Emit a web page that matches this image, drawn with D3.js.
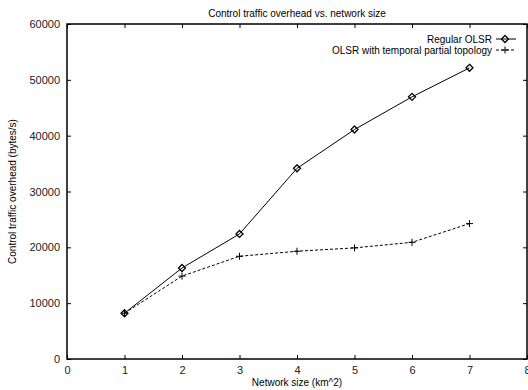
<!DOCTYPE html>
<html>
<head>
<meta charset="utf-8">
<script src="https://cdn.jsdelivr.net/npm/d3@7"></script>
<style>
  body { margin: 0; background: #fff; }
  text { font-family: "Liberation Sans", Arial, sans-serif; fill: #000; }
</style>
</head>
<body>
<div id="chart"></div>
<script>
// data
var networkSize = [1, 2, 3, 4, 5, 6, 7];
var regularOlsr = [8200, 16300, 22400, 34150, 41100, 46950, 52150];
var temporalOlsr = [8200, 14850, 18400, 19300, 19900, 20900, 24250];
var xTicks = [0, 1, 2, 3, 4, 5, 6, 7, 8];
var yTicks = [0, 10000, 20000, 30000, 40000, 50000, 60000];

var width = 528, height = 390;
var margin = { top: 24, right: 1, bottom: 31, left: 67 };
var plotW = width - margin.left - margin.right;
var plotH = height - margin.top - margin.bottom;

var svg = d3.select("#chart").append("svg")
    .attr("width", width)
    .attr("height", height);

var xScale = d3.scaleLinear().domain([0, 8]).range([0, plotW]);
var yScale = d3.scaleLinear().domain([0, 60000]).range([plotH, 0]);

var g = svg.append("g").attr("transform", "translate(" + margin.left + "," + margin.top + ")");

// gnuplot-like inward ticks on all four sides
var tickLen = 4;
g.append("g").attr("class", "x axis")
    .attr("transform", "translate(0," + plotH + ")")
    .call(d3.axisBottom(xScale).tickValues(xTicks).tickSizeInner(-tickLen).tickSizeOuter(0).tickPadding(7).tickFormat(d3.format("d")));
g.append("g").attr("class", "x2 axis")
    .call(d3.axisTop(xScale).tickValues(xTicks).tickSizeInner(-tickLen).tickSizeOuter(0).tickFormat(""));
g.append("g").attr("class", "y axis")
    .call(d3.axisLeft(yScale).tickValues(yTicks).tickSizeInner(-tickLen).tickSizeOuter(0).tickPadding(7).tickFormat(d3.format("d")));
g.append("g").attr("class", "y2 axis")
    .attr("transform", "translate(" + plotW + ",0)")
    .call(d3.axisRight(yScale).tickValues(yTicks).tickSizeInner(-tickLen).tickSizeOuter(0).tickFormat(""));

g.selectAll(".axis .domain").remove();
g.selectAll(".axis text").style("font-size", "11px").style("fill", "#222");
g.selectAll(".axis line").attr("stroke", "#000");

g.append("rect")
    .attr("width", plotW).attr("height", plotH)
    .attr("fill", "none").attr("stroke", "#000").attr("stroke-width", 1.5);

var line = d3.line()
    .x(function (d) { return xScale(d[0]); })
    .y(function (d) { return yScale(d[1]); });

var regPts = networkSize.map(function (x, i) { return [x, regularOlsr[i]]; });
var tmpPts = networkSize.map(function (x, i) { return [x, temporalOlsr[i]]; });

g.append("path").datum(tmpPts).attr("d", line)
    .attr("fill", "none").attr("stroke", "#000").attr("stroke-width", 1).attr("stroke-dasharray", "3,2");
g.append("path").datum(regPts).attr("d", line)
    .attr("fill", "none").attr("stroke", "#000").attr("stroke-width", 1);

function diamond(sel, x, y) {
    sel.append("path")
        .attr("d", "M" + x + "," + (y - 3.5) + "L" + (x + 3.5) + "," + y + "L" + x + "," + (y + 3.5) + "L" + (x - 3.5) + "," + y + "Z")
        .attr("fill", "none").attr("stroke", "#000").attr("stroke-width", 1.3);
}
function plus(sel, x, y) {
    sel.append("path")
        .attr("d", "M" + (x - 3.5) + "," + y + "H" + (x + 3.5) + "M" + x + "," + (y - 3.5) + "V" + (y + 3.5))
        .attr("stroke", "#000").attr("stroke-width", 1);
}

var marks = g.append("g");
tmpPts.forEach(function (d) { plus(marks, xScale(d[0]), yScale(d[1])); });
regPts.forEach(function (d) { diamond(marks, xScale(d[0]), yScale(d[1])); });

// legend
var legend = svg.append("g");
var legendItems = [
    { label: "Regular OLSR", dash: null, mark: diamond, y: 39 },
    { label: "OLSR with temporal partial topology", dash: "3,2", mark: plus, y: 50 }
];
legendItems.forEach(function (it) {
    legend.append("text").attr("x", 492).attr("y", it.y + 3.5)
        .attr("text-anchor", "end").style("font-size", "10px").text(it.label);
    legend.append("line").attr("x1", 496).attr("x2", 516).attr("y1", it.y).attr("y2", it.y)
        .attr("stroke", "#000").attr("stroke-width", 1).attr("stroke-dasharray", it.dash);
    it.mark(legend, 505, it.y);
});

// title and axis labels
svg.append("text").attr("x", margin.left + plotW / 2).attr("y", 17)
    .attr("text-anchor", "middle").style("font-size", "10px")
    .text("Control traffic overhead vs. network size");
svg.append("text").attr("x", margin.left + plotW / 2).attr("y", 386)
    .attr("text-anchor", "middle").style("font-size", "10px")
    .text("Network size (km^2)");
svg.append("text")
    .attr("transform", "translate(16," + (margin.top + plotH / 2) + ") rotate(-90)")
    .attr("text-anchor", "middle").style("font-size", "10px")
    .text("Control traffic overhead (bytes/s)");
</script>
</body>
</html>
